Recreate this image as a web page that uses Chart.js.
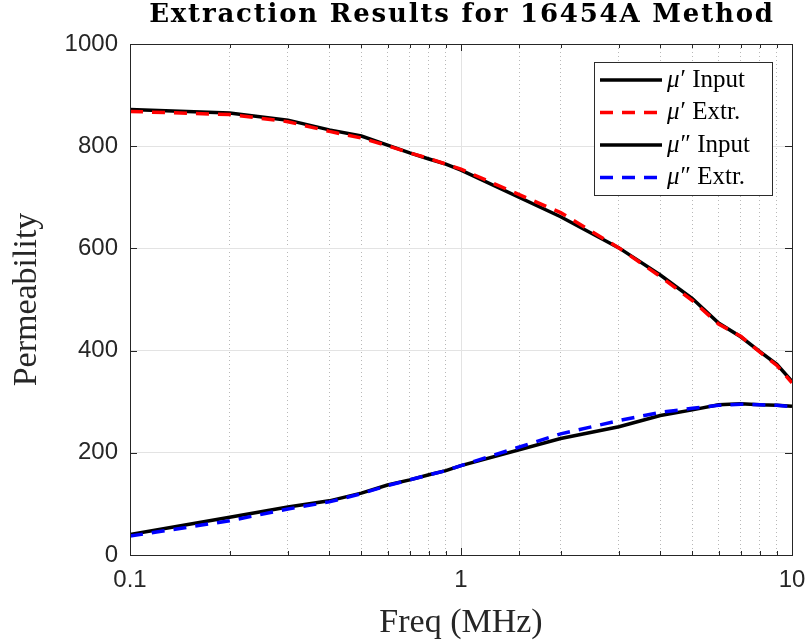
<!DOCTYPE html>
<html>
<head>
<meta charset="utf-8">
<script src="https://cdn.jsdelivr.net/npm/chart.js@4.4.1/dist/chart.umd.min.js"></script>
<style>
  html, body { margin: 0; padding: 0; background: #fff; }
  #wrap { width: 806px; height: 644px; }
</style>
</head>
<body>
<div id="wrap"><canvas id="chart"></canvas></div>
<script>
// frequency points (MHz)
const freq = [0.1, 0.2, 0.3, 0.4, 0.5, 0.6, 0.7, 0.8, 0.9, 1, 2, 3, 4, 5, 6, 7, 8, 9, 10];

// mu' (real part)
const muRealInput = [872, 865, 851, 832, 820, 802, 787, 775, 765, 753, 662, 601, 548, 502, 454, 427, 398, 373, 340];
const muRealExtr  = [868, 862, 848, 829, 816, 801, 787, 776, 765, 755, 670, 601, 545, 498, 452, 428, 397, 371, 337];

// mu'' (imaginary part)
const muImagInput = [40, 74, 94, 106, 121, 137, 147, 157, 165, 175, 228, 251, 273, 284, 294, 296, 294, 293, 291];
const muImagExtr  = [37, 67, 90, 104, 120, 136, 147, 157, 165, 175, 237, 263, 279, 287, 293, 295, 294, 293, 290];

const seriesLabels = ["\u03bc\u2032 Input", "\u03bc\u2032 Extr.", "\u03bc\u2033 Input", "\u03bc\u2033 Extr."];
const yTicks = [0, 200, 400, 600, 800, 1000];
const chartTitle = "Extraction Results for 16454A Method";

const toPoints = (arr) => freq.map((f, i) => ({ x: f, y: arr[i] }));
const isDecade = (v) => Math.abs(Math.log10(v) - Math.round(Math.log10(v))) < 1e-6;

const AXIS_COLOR = "#262626";
const SERIF = "'Liberation Serif', 'DejaVu Serif', serif";
const SANS = "'Liberation Sans', Arial, sans-serif";

// title, box, inward ticks and legend, MATLAB style
const matlabAxes = {
    id: "matlabAxes",
    afterDraw(chart) {
        const { ctx, chartArea: a, scales } = chart;
        ctx.save();

        // title (wide bold serif, so a bit of letter spacing)
        ctx.fillStyle = "#000";
        ctx.font = "bold 26px 'DejaVu Serif', serif";
        ctx.textAlign = "center";
        ctx.textBaseline = "middle";
        if ("letterSpacing" in ctx) ctx.letterSpacing = "1.8px";
        ctx.fillText(chartTitle, (a.left + a.right) / 2 + 1, 15);
        if ("letterSpacing" in ctx) ctx.letterSpacing = "0px";

        ctx.strokeStyle = AXIS_COLOR;
        ctx.lineWidth = 1;

        // x ticks (bottom + top)
        scales.x.ticks.forEach((t) => {
            const px = Math.round(scales.x.getPixelForValue(t.value)) + 0.5;
            const len = isDecade(t.value) ? 7 : 4;
            ctx.beginPath();
            ctx.moveTo(px, a.bottom); ctx.lineTo(px, a.bottom - len);
            ctx.moveTo(px, a.top); ctx.lineTo(px, a.top + len);
            ctx.stroke();
        });
        // y ticks (left + right)
        scales.y.ticks.forEach((t) => {
            const py = Math.round(scales.y.getPixelForValue(t.value)) + 0.5;
            ctx.beginPath();
            ctx.moveTo(a.left, py); ctx.lineTo(a.left + 7, py);
            ctx.moveTo(a.right, py); ctx.lineTo(a.right - 7, py);
            ctx.stroke();
        });
        // box
        ctx.strokeRect(Math.round(a.left) + 0.5, Math.round(a.top) + 0.5,
            Math.round(a.right - a.left), Math.round(a.bottom - a.top));

        // legend
        const boxW = 178, boxH = 133;
        const bx = a.right - 20 - boxW, by = a.top + 18;
        ctx.fillStyle = "#fff";
        ctx.fillRect(bx, by, boxW, boxH);
        ctx.strokeStyle = "#2b2b2b";
        ctx.strokeRect(bx + 0.5, by + 0.5, boxW, boxH);

        chart.data.datasets.forEach((ds, i) => {
            const cy = by + 18 + i * 32.5;
            ctx.beginPath();
            ctx.strokeStyle = ds.borderColor;
            ctx.lineWidth = ds.borderWidth;
            ctx.setLineDash(ds.borderDash || []);
            ctx.moveTo(bx + 6, cy); ctx.lineTo(bx + 68, cy);
            ctx.stroke();
            ctx.setLineDash([]);

            ctx.fillStyle = "#000";
            ctx.textBaseline = "middle";
            ctx.textAlign = "left";
            const mu = ds.label.charAt(0);
            const rest = ds.label.slice(1);
            ctx.font = "italic 25px " + SERIF;
            ctx.fillText(mu, bx + 73, cy);
            const w = ctx.measureText(mu).width;
            ctx.font = "25px " + SERIF;
            ctx.fillText(rest, bx + 73 + w + 1, cy);
        });
        ctx.restore();
    },
};

new Chart(document.getElementById("chart"), {
    type: "line",
    data: {
        datasets: [
            { label: seriesLabels[0], data: toPoints(muRealInput), borderColor: "#000000", borderWidth: 3.5, order: 2 },
            { label: seriesLabels[1], data: toPoints(muRealExtr), borderColor: "#ff0000", borderWidth: 3.5, borderDash: [13, 9], order: 1 },
            { label: seriesLabels[2], data: toPoints(muImagInput), borderColor: "#000000", borderWidth: 3.5, order: 2 },
            { label: seriesLabels[3], data: toPoints(muImagExtr), borderColor: "#0000ff", borderWidth: 3.5, borderDash: [13, 9], order: 1 },
        ],
    },
    options: {
        responsive: true,
        maintainAspectRatio: false,
        animation: false,
        layout: { padding: { left: 0, right: 14, top: 44, bottom: 0 } },
        elements: { point: { radius: 0 }, line: { tension: 0, borderCapStyle: "butt" } },
        plugins: {
            legend: { display: false },
            tooltip: { enabled: false },
            title: { display: false },
        },
        scales: {
            x: {
                type: "logarithmic",
                min: 0.1,
                max: 10,
                afterFit: (s) => { s.height = 89; s.paddingLeft = 0; s.paddingRight = 0; },
                border: {
                    display: false,
                    dash: (c) => (c.tick && !isDecade(c.tick.value) ? [1, 3] : []),
                },
                grid: {
                    drawTicks: false,
                    color: (c) => (c.tick && isDecade(c.tick.value) ? "#e3e3e3" : "rgba(0,0,0,0.28)"),
                    lineWidth: 1,
                },
                ticks: {
                    autoSkip: false,
                    maxRotation: 0,
                    padding: 11,
                    color: AXIS_COLOR,
                    font: { family: SANS, size: 24 },
                    callback: (v) => (isDecade(v) ? String(v) : ""),
                },
                title: {
                    display: true,
                    text: "Freq (MHz)",
                    color: AXIS_COLOR,
                    font: { family: SERIF, size: 34 },
                    padding: { top: 0, bottom: 1 },
                },
            },
            y: {
                min: 0,
                max: 1000,
                afterFit: (s) => { s.width = 130; s.paddingTop = 0; s.paddingBottom = 0; },
                afterBuildTicks: (s) => { s.ticks = yTicks.map((v) => ({ value: v })); },
                border: { display: false },
                grid: { drawTicks: false, color: "#e3e3e3", lineWidth: 1 },
                ticks: {
                    padding: 12,
                    color: AXIS_COLOR,
                    font: { family: SANS, size: 24 },
                    callback: (v) => String(v),
                },
                title: {
                    display: true,
                    text: "Permeability",
                    color: AXIS_COLOR,
                    font: { family: SERIF, size: 34 },
                    padding: { top: 7, bottom: 0 },
                },
            },
        },
    },
    plugins: [matlabAxes],
});
</script>
</body>
</html>
